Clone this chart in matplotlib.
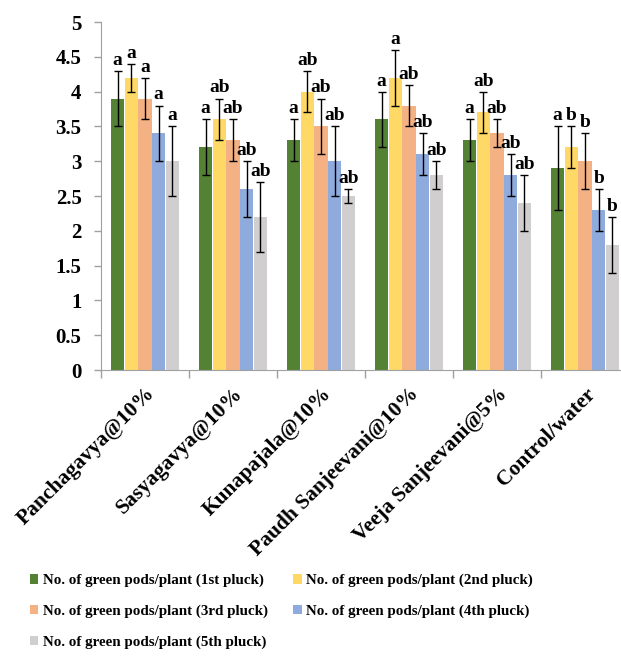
import numpy as np
import matplotlib.pyplot as plt

plt.rcParams['font.family'] = ['Liberation Serif', 'DejaVu Serif']
plt.rcParams['font.weight'] = 'bold'

treatments = ['Panchagavya@10%', 'Sasyagavya@10%', 'Kunapajala@10%',
              'Paudh Sanjeevani@10%', 'Veeja Sanjeevani@5%', 'Control/water']
series = ['No. of green pods/plant (1st pluck)', 'No. of green pods/plant (2nd pluck)',
          'No. of green pods/plant (3rd pluck)', 'No. of green pods/plant (4th pluck)',
          'No. of green pods/plant (5th pluck)']

# rows = pluck, columns = treatment
means = [
    [3.9, 3.2, 3.3, 3.6, 3.3, 2.9],
    [4.2, 3.6, 4.0, 4.2, 3.7, 3.2],
    [3.9, 3.3, 3.5, 3.8, 3.4, 3.0],
    [3.4, 2.6, 3.0, 3.1, 2.8, 2.3],
    [3.0, 2.2, 2.5, 2.8, 2.4, 1.8],
]
errors = [
    [0.4, 0.4, 0.3, 0.4, 0.3, 0.6],
    [0.2, 0.3, 0.3, 0.4, 0.3, 0.3],
    [0.3, 0.3, 0.4, 0.3, 0.2, 0.4],
    [0.4, 0.4, 0.5, 0.3, 0.3, 0.3],
    [0.5, 0.5, 0.1, 0.2, 0.4, 0.4],
]
letters = [
    ['a', 'a', 'a', 'a', 'a', 'a'],
    ['a', 'ab', 'ab', 'a', 'ab', 'b'],
    ['a', 'ab', 'ab', 'ab', 'ab', 'b'],
    ['a', 'ab', 'ab', 'ab', 'ab', 'b'],
    ['a', 'ab', 'ab', 'ab', 'ab', 'b'],
]
colors = ['#548235', '#FFD966', '#F4B183', '#8FAADC', '#D0CECE']

fig = plt.figure(figsize=(6.21, 6.62), dpi=100)
ax = fig.add_axes([101 / 621, 292 / 662, 528 / 621, 348 / 662])

x = np.arange(len(treatments))
w = 0.153
handles = []
for i in range(len(series)):
    pos = x + (i - 2) * (w + 0.003)
    b = ax.bar(pos, means[i], w, color=colors[i], label=series[i],
               yerr=errors[i], capsize=3,
               error_kw=dict(ecolor='black', elinewidth=1, capthick=1))
    handles.append(b)
    for p, m, e, t in zip(pos, means[i], errors[i], letters[i]):
        ax.text(p, m + e + 0.03, t, ha='center', va='bottom',
                fontsize=14, fontweight='bold')

ax.set_xlim(-0.5, len(treatments) - 0.5)
ax.set_ylim(0, 5)
ax.set_yticks(np.arange(0, 5.01, 0.5))
ax.set_yticklabels(['0', '0.5', '1', '1.5', '2', '2.5', '3', '3.5', '4', '4.5', '5'])
ax.tick_params(axis='y', labelsize=15, length=5, color='#A0A0A0', width=1, pad=9)

ax.set_xticks(x)
ax.set_xticklabels(treatments, rotation=45, ha='right', rotation_mode='anchor',
                   fontsize=15.5, fontweight='bold')
ax.tick_params(axis='x', length=0, pad=10)
ax.set_xticks(np.arange(-0.5, len(treatments), 1), minor=True)
ax.tick_params(axis='x', which='minor', length=6, color='#A0A0A0', width=1)

for s in ['top', 'right']:
    ax.spines[s].set_visible(False)
for s in ['left', 'bottom']:
    ax.spines[s].set_color('#A0A0A0')

order = [0, 2, 4, 1, 3]
fig.legend([handles[k] for k in order], [series[k] for k in order],
           loc='upper left', bbox_to_anchor=(24 / 621, 1 - 568 / 662), ncol=2,
           frameon=False, handlelength=0.55, handleheight=0.55,
           handletextpad=0.3, columnspacing=1.7, labelspacing=1.15,
           borderaxespad=0, prop={'weight': 'bold', 'size': 10.8})

fig.savefig('out.png', dpi=100)
